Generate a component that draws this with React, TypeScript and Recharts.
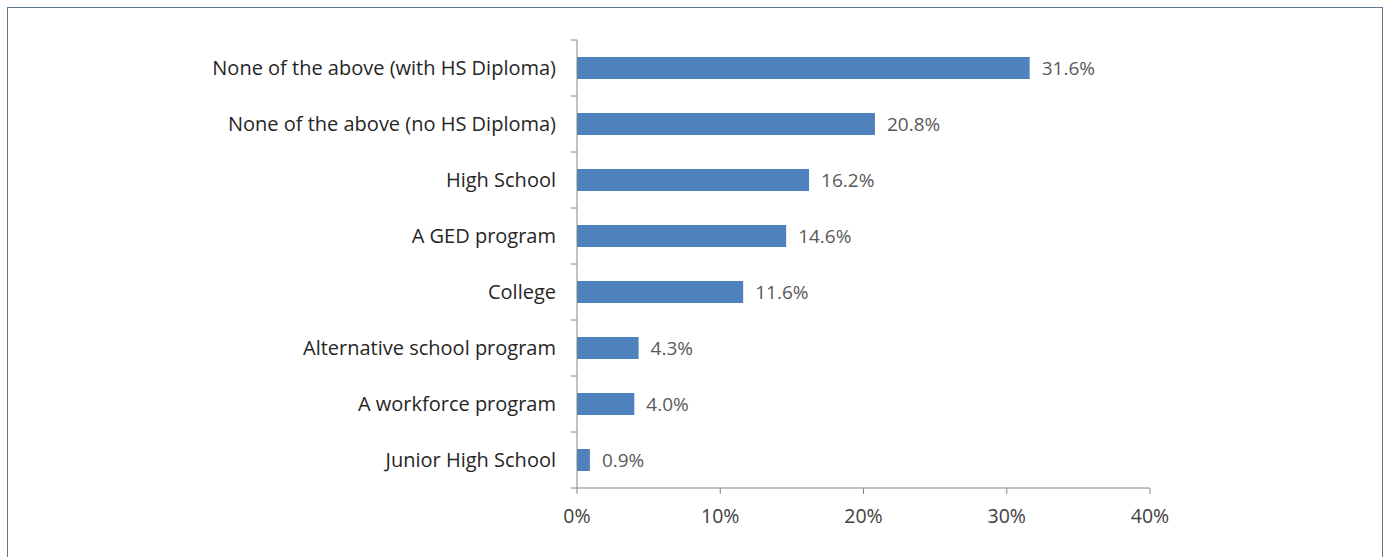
import React from 'react';
import { BarChart, Bar, XAxis, YAxis, LabelList } from 'recharts';

const categories = [
  'None of the above (with HS Diploma)',
  'None of the above (no HS Diploma)',
  'High School',
  'A GED program',
  'College',
  'Alternative school program',
  'A workforce program',
  'Junior High School',
];
const values = [31.6, 20.8, 16.2, 14.6, 11.6, 4.3, 4.0, 0.9];
const xTicks = [0, 10, 20, 30, 40];

const data = categories.map((name, i) => ({ name, value: values[i] }));

const FONT = '"Open Sans", "Noto Sans", sans-serif';
const AXIS = '#868686';
const PLOT_TOP = 40;
const PLOT_H = 448;
const HALF_BAND = PLOT_H / categories.length / 2;
const LABEL_GAP = 21;

// category label plus the tick marks that sit between bands (Excel style)
function CategoryTick(props: any) {
  const { x, y, payload, index, visibleTicksCount } = props;
  const ax = x + LABEL_GAP;
  const last = index === visibleTicksCount - 1;
  return (
    <g>
      <text x={x} y={y} dy="0.35em" textAnchor="end" fill="#262626" fontSize={20} fontFamily={FONT}>
        {payload.value}
      </text>
      <line x1={ax - 6} x2={ax} y1={y - HALF_BAND} y2={y - HALF_BAND} stroke={AXIS} />
      {last && <line x1={ax - 6} x2={ax} y1={y + HALF_BAND} y2={y + HALF_BAND} stroke={AXIS} />}
    </g>
  );
}

export default function App() {
  return (
    <div style={{ position: 'absolute', left: 0, top: 0, width: 1386, height: 557, overflow: 'hidden', background: '#fff' }}>
      <div
        style={{
          position: 'absolute',
          left: 7,
          top: 7,
          width: 1376,
          height: 570,
          border: '1.5px solid #5d7893',
          boxSizing: 'border-box',
        }}
      />
      <div style={{ position: 'absolute', left: 0, top: 0 }}>
        <BarChart
          width={1386}
          height={557}
          data={data}
          layout="vertical"
          margin={{ top: PLOT_TOP, right: 236, bottom: 39, left: 0 }}
        >
          <XAxis
            type="number"
            domain={[0, 40]}
            ticks={xTicks}
            tickFormatter={(v: number) => `${v}%`}
            height={30}
            stroke={AXIS}
            tickSize={6}
            tickMargin={15}
            tick={{ fill: '#404040', fontSize: 19.5, fontFamily: FONT }}
          />
          <YAxis
            type="category"
            dataKey="name"
            width={577}
            stroke={AXIS}
            tickLine={false}
            tickSize={0}
            tickMargin={LABEL_GAP}
            interval={0}
            tick={<CategoryTick />}
          />
          <Bar dataKey="value" fill="#4f81bd" barSize={22} isAnimationActive={false}>
            <LabelList
              dataKey="value"
              position="right"
              offset={12}
              formatter={(v: number) => `${Number(v).toFixed(1)}%`}
              style={{ fill: '#595959', fontSize: 19, fontFamily: FONT }}
            />
          </Bar>
        </BarChart>
      </div>
    </div>
  );
}
